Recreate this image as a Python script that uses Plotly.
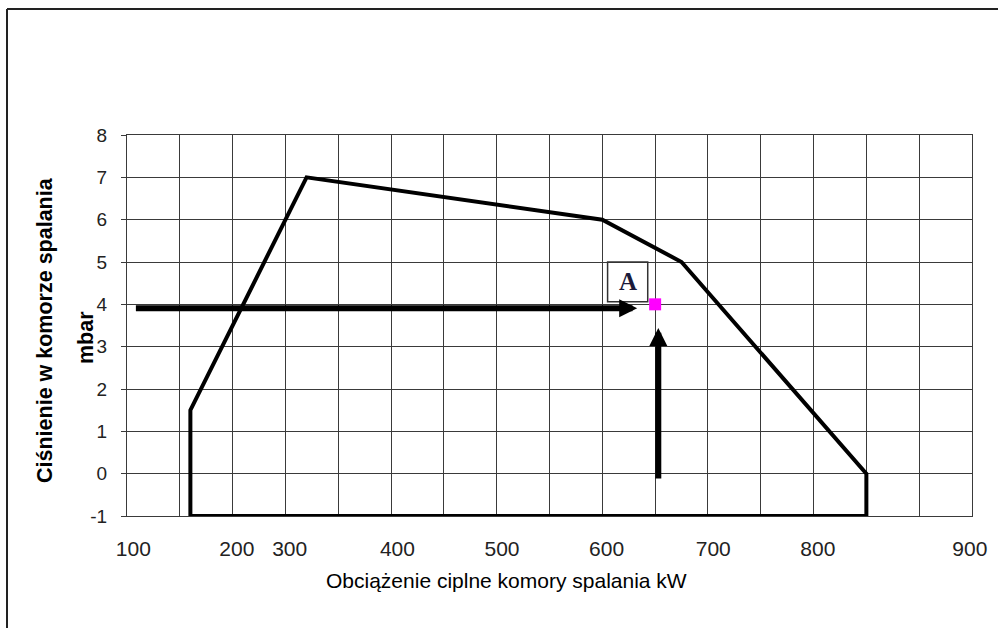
import plotly.graph_objects as go

# ---- data ----
envelope_x = [160, 160, 270, 550, 625, 800, 800, 160]
envelope_y = [-1, 1.5, 7, 6, 5, 0, -1, -1]

point_a_x = [600]
point_a_y = [4]

x_tick_labels = ["100", "200", "300", "400", "500", "600", "700", "800", "900"]
x_tick_positions = [106, 204, 254, 356, 455, 554, 655, 754, 898]
y_tick_values = [-1, 0, 1, 2, 3, 4, 5, 6, 7, 8]
y_tick_labels = ["-1", "0", "1", "2", "3", "4", "5", "6", "7", "8"]

x_title = "Obciążenie ciplne komory spalania kW"
y_title_1 = "Ciśnienie w komorze spalania"
y_title_2 = "mbar"

GRID = "#3a3a3a"
W, H = 998, 628
L, R, T, B = 127, 26, 135, 112
PW, PH = W - L - R, H - T - B


def px2paper(px, py):
    return (px - L) / PW, (H - B - py) / PH


fig = go.Figure()

fig.add_trace(go.Scatter(
    x=envelope_x, y=envelope_y, mode="lines",
    line=dict(color="black", width=4), hoverinfo="skip", showlegend=False,
))
fig.add_trace(go.Scatter(
    x=point_a_x, y=point_a_y, mode="markers",
    marker=dict(symbol="square", size=12, color="#ff00ff"),
    showlegend=False,
))

# arrows
fig.add_annotation(x=583, y=3.91, ax=107, ay=3.91, xref="x", yref="y",
                   axref="x", ayref="y", showarrow=True, arrowhead=2,
                   arrowsize=0.6, arrowwidth=6, arrowcolor="black", text="")
fig.add_annotation(x=603, y=3.44, ax=603, ay=-0.15, xref="x", yref="y",
                   axref="x", ayref="y", showarrow=True, arrowhead=2,
                   arrowsize=0.6, arrowwidth=6, arrowcolor="black", text="")

# "A" label box
fig.add_shape(type="rect", x0=555, x1=593, y0=4.06, y1=5.0, xref="x", yref="y",
              line=dict(color="#333333", width=1.5))
fig.add_annotation(x=574, y=4.53, xref="x", yref="y", text="<b>A</b>",
                   showarrow=False, xanchor="center", yanchor="middle",
                   font=dict(family="Liberation Serif", size=25, color="#1a1a3a"))

# axis titles
x0, y0 = px2paper(45, 330)
fig.add_annotation(x=x0, y=y0, xref="paper", yref="paper", text="<b>" + y_title_1 + "</b>",
                   textangle=-90, showarrow=False, xanchor="center", yanchor="middle",
                   font=dict(family="Liberation Sans", size=21.5, color="black"))
x0, y0 = px2paper(86, 338)
fig.add_annotation(x=x0, y=y0, xref="paper", yref="paper", text="<b>" + y_title_2 + "</b>",
                   textangle=-90, showarrow=False, xanchor="center", yanchor="middle",
                   font=dict(family="Liberation Sans", size=21.5, color="black"))
x0, y0 = px2paper(506, 580)
fig.add_annotation(x=x0, y=y0, xref="paper", yref="paper", text=x_title,
                   showarrow=False, xanchor="center", yanchor="middle",
                   font=dict(family="Liberation Sans", size=21, color="black"))

# outer frame (left and top edges)
xa, ya = px2paper(7, 9)
xb, yb = px2paper(7, 640)
xc, yc = px2paper(1010, 9)
fig.add_shape(type="line", xref="paper", yref="paper", x0=xa, y0=ya, x1=xb, y1=yb,
              line=dict(color="#222222", width=2))
fig.add_shape(type="line", xref="paper", yref="paper", x0=xa, y0=ya, x1=xc, y1=yc,
              line=dict(color="#222222", width=2))

fig.update_layout(
    width=W, height=H,
    margin=dict(l=L, r=R, t=T, b=B),
    paper_bgcolor="white", plot_bgcolor="white",
    showlegend=False,
    xaxis=dict(
        range=[100, 900], showgrid=False, zeroline=False,
        tickmode="array", tickvals=x_tick_positions, ticktext=x_tick_labels,
        ticks="", ticklabelstandoff=14,
        tickfont=dict(family="Liberation Sans", size=21, color="#222222"),
        minor=dict(dtick=50, tick0=100, showgrid=True, gridcolor=GRID, gridwidth=1, ticks=""),
        showline=True, linecolor=GRID, linewidth=1, mirror=True,
    ),
    yaxis=dict(
        range=[-1, 8], showgrid=True, gridcolor=GRID, gridwidth=1, zeroline=False,
        tickmode="array", tickvals=y_tick_values, ticktext=y_tick_labels,
        ticks="outside", ticklen=5, tickcolor=GRID, ticklabelstandoff=10,
        tickfont=dict(family="Liberation Sans", size=19, color="#222222"),
        showline=True, linecolor=GRID, linewidth=1, mirror=True,
    ),
)

fig.write_html(
    "out.html",
    config={"displayModeBar": False},
    post_script="document.body.style.margin='0';document.body.style.overflow='hidden';",
)
